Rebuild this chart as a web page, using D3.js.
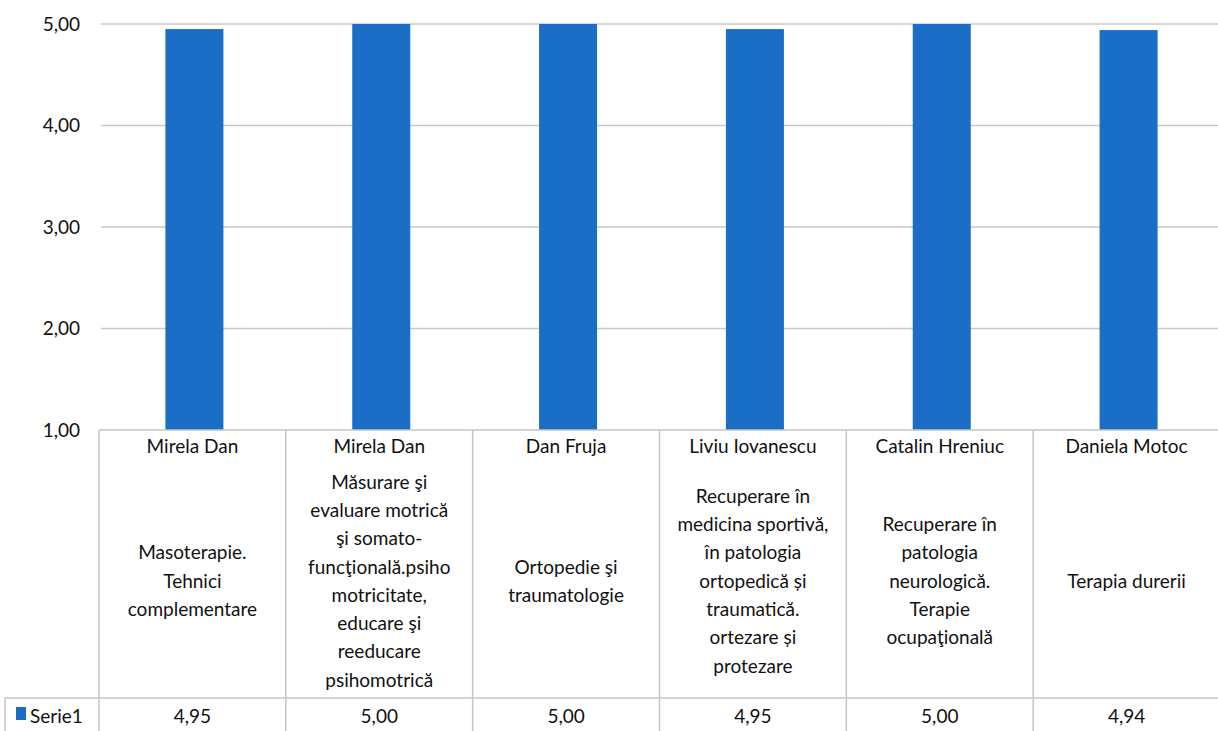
<!DOCTYPE html>
<html>
<head>
<meta charset="utf-8">
<script src="https://cdn.jsdelivr.net/npm/d3@7"></script>
<style>
  body { margin: 0; background: #fff; overflow: hidden; }
  text { font-family: Lato, "Liberation Sans", sans-serif; fill: #111; }
</style>
</head>
<body>
<div id="chart"></div>
<script>
// data
const teachers = ["Mirela Dan", "Mirela Dan", "Dan Fruja", "Liviu Iovanescu", "Catalin Hreniuc", "Daniela Motoc"];
const courses = [
  ["Masoterapie.", "Tehnici", "complementare"],
  ["Măsurare şi", "evaluare motrică", "şi somato-", "funcţională.psiho", "motricitate,", "educare şi", "reeducare", "psihomotrică"],
  ["Ortopedie şi", "traumatologie"],
  ["Recuperare în", "medicina sportivă,", "în patologia", "ortopedică și", "traumatică.", "ortezare și", "protezare"],
  ["Recuperare în", "patologia", "neurologică.", "Terapie", "ocupaţională"],
  ["Terapia durerii"]
];
const serie1 = [4.95, 5.00, 5.00, 4.95, 5.00, 4.94];
const seriesName = "Serie1";
const yTicks = [1, 2, 3, 4, 5];

const W = 1218, H = 731;
const plotLeft = 99, plotRight = 1220, plotTop = 24, axisY = 430;
const rowY = 698;
const fs = "19px";
const fmt = (v) => d3.format(".2f")(v).replace(".", ",");

const svg = d3.select("#chart").append("svg")
  .attr("width", W).attr("height", H);

const x = d3.scaleBand()
  .domain(d3.range(teachers.length))
  .range([plotLeft, plotRight])
  .paddingInner(0).paddingOuter(0);

const y = d3.scaleLinear().domain([1, 5]).range([axisY, plotTop]);

// grid lines
svg.append("g")
  .selectAll("line")
  .data(yTicks.slice(1))
  .join("line")
  .attr("x1", plotLeft + 2).attr("x2", W)
  .attr("y1", (d) => y(d)).attr("y2", (d) => y(d))
  .attr("stroke", "#c9c9cc").attr("stroke-width", 1.5);

// y tick labels
svg.append("g")
  .selectAll("text")
  .data(yTicks)
  .join("text")
  .attr("x", 80)
  .attr("y", (d) => y(d))
  .attr("dy", "0.35em")
  .attr("text-anchor", "end")
  .style("font-size", "19px")
  .text(fmt);

// bars
const barW = 58;
svg.append("g")
  .selectAll("rect")
  .data(serie1)
  .join("rect")
  .attr("x", (d, i) => x(i) + x.bandwidth() / 2 - barW / 2 + 2)
  .attr("y", (d) => y(d))
  .attr("width", barW)
  .attr("height", (d) => axisY - y(d))
  .attr("fill", "#1b6ec6");

// data table
const grid = svg.append("g").attr("stroke", "#c4c6ca").attr("stroke-width", 1.5);
grid.append("line").attr("x1", plotLeft).attr("x2", W).attr("y1", axisY).attr("y2", axisY);
grid.append("line").attr("x1", 5).attr("x2", W).attr("y1", rowY).attr("y2", rowY);
grid.append("line").attr("x1", 5).attr("x2", 5).attr("y1", rowY).attr("y2", H);
grid.selectAll("line.v")
  .data(d3.range(teachers.length + 1))
  .join("line")
  .attr("class", "v")
  .attr("x1", (i) => plotLeft + i * x.bandwidth())
  .attr("x2", (i) => plotLeft + i * x.bandwidth())
  .attr("y1", axisY).attr("y2", H);

const cx = (i) => x(i) + x.bandwidth() / 2;

svg.append("g")
  .selectAll("text")
  .data(teachers)
  .join("text")
  .attr("x", (d, i) => cx(i))
  .attr("y", 446)
  .attr("dy", "0.35em")
  .attr("text-anchor", "middle")
  .style("font-size", fs)
  .text((d) => d);

const lineH = 28.3, midY = 581;
courses.forEach((lines, i) => {
  svg.append("text")
    .attr("text-anchor", "middle")
    .style("font-size", fs)
    .selectAll("tspan")
    .data(lines)
    .join("tspan")
    .attr("x", cx(i))
    .attr("y", (d, k) => midY + (k - (lines.length - 1) / 2) * lineH)
    .attr("dy", "0.35em")
    .text((d) => d);
});

// series row
svg.append("rect")
  .attr("x", 16).attr("y", 707).attr("width", 10).attr("height", 13)
  .attr("fill", "#1b6ec6");
svg.append("text")
  .attr("x", 30).attr("y", 716).attr("dy", "0.35em")
  .style("font-size", fs)
  .text(seriesName);

svg.append("g")
  .selectAll("text")
  .data(serie1)
  .join("text")
  .attr("x", (d, i) => cx(i))
  .attr("y", 716)
  .attr("dy", "0.35em")
  .attr("text-anchor", "middle")
  .style("font-size", fs)
  .text(fmt);
</script>
</body>
</html>
